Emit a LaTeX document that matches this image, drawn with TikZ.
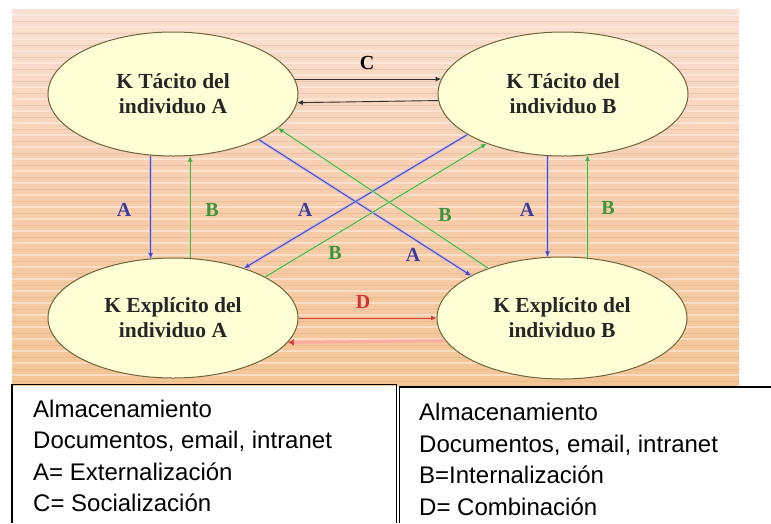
\documentclass[tikz,border=0pt]{standalone}
\usepackage{fontspec}
\setmainfont{Liberation Serif}
\newfontfamily\boxfont{Liberation Sans}
\usetikzlibrary{shapes.geometric,arrows.meta}
\definecolor{bgtop}{RGB}{250,224,212}
\definecolor{bgmid}{RGB}{247,205,172}
\definecolor{bgbot}{RGB}{244,198,150}
\definecolor{stripelight}{RGB}{255,240,230}
\definecolor{stripedark}{RGB}{210,160,120}
\definecolor{ellfill}{RGB}{255,255,214}
\definecolor{ellline}{RGB}{110,100,55}
\definecolor{ablue}{RGB}{75,75,200}
\definecolor{ahalo}{RGB}{180,180,245}
\definecolor{bgreen}{RGB}{70,175,70}
\definecolor{ghalo}{RGB}{190,235,170}
\definecolor{dred}{RGB}{205,55,55}
\definecolor{dpink}{RGB}{255,165,165}
\definecolor{cgray}{RGB}{50,50,50}
\begin{document}
\begin{tikzpicture}[x=1pt,y=-1pt,
  kell/.style={ellipse, draw=ellline, line width=1pt, fill=ellfill,
    minimum width=250pt, minimum height=124pt, inner sep=0pt, align=center,
    text=black!85, font=\bfseries\fontsize{21.5}{25}\selectfont},
  tip/.style={-{Latex[length=5.5pt,width=5pt]}},
  bluearr/.style={draw=ablue, line width=1pt, tip,
    preaction={draw=ahalo, line width=3pt, opacity=0.6, arrows=-}},
  greenarr/.style={draw=bgreen, line width=0.9pt, tip,
    preaction={draw=ghalo, line width=2.5pt, opacity=0.5, arrows=-}},
  blackarr/.style={draw=cgray, line width=0.9pt, tip},
  redarr/.style={draw=dred, line width=1pt, tip},
  pinkarr/.style={draw=dpink, line width=3pt, opacity=0.8,
    -{Latex[length=6pt,width=7pt,color=dred]}},
  lab/.style={inner sep=1pt, font=\bfseries\fontsize{20}{24}\selectfont},
  labA/.style={lab, text=ablue!80!black},
  labB/.style={lab, text=bgreen!85!black},
  boxline/.style={draw=black, line width=1.5pt},
  boxtext/.style={anchor=base west, inner sep=0pt,
    font=\boxfont\fontsize{24}{31}\selectfont}
]
\useasboundingbox (0,0) rectangle (771,523);
\fill[white] (0,0) rectangle (771,523);
% background panel
\shade[top color=bgtop, bottom color=bgbot, middle color=bgmid] (12,9) rectangle (739,385);
\foreach \yy in {15,27,...,383} {
  \draw[stripelight, line width=1.2pt, opacity=0.55] (12,\yy) -- (739,\yy);
}
\foreach \yy in {21,33,...,383} {
  \draw[stripedark, line width=0.8pt, opacity=0.3] (12,\yy) -- (739,\yy);
}
% ellipses
\node[kell] (ta) at (173,94) {K Tácito del\\individuo A};
\node[kell] (tb) at (563,94) {K Tácito del\\individuo B};
\node[kell, minimum height=120pt] (ea) at (173,318) {K Explícito del\\individuo A};
\node[kell, minimum height=122pt] (eb) at (562,318) {K Explícito del\\individuo B};
% C arrows
\draw[blackarr] (ta.7) -- (tb.173);
\draw[blackarr] (tb.183.7) -- (ta.356.3);
\node[lab] (lc) at (367,63) {C};
% verticals left
\draw[bluearr] (ta.250.2) -- (ta.250.2 |- ea.110.4);
\draw[greenarr] (ea.74.9) -- (ea.74.9 |- ta.284.6);
% verticals right
\draw[bluearr] (tb.256.3) -- (tb.256.3 |- eb.103.2);
\draw[greenarr] (eb.67) -- (eb.67 |- tb.291.5);
% diagonals
\draw[bluearr] (ta.332.1) -- (eb.155.8);
\draw[bluearr] (tb.203.1) -- (ea.35.2);
\draw[greenarr] (eb.146.1) -- (ta.342.1);
\draw[greenarr] (ea.24.9) -- (tb.213.2);
% D arrows
\draw[pinkarr] (eb.191) -- (ea.348.2);
\draw[redarr] (ea.east) -- (eb.west);
\node[lab, text=dred] (ld) at (363,302) {D};
% labels
\node[labA] (la1) at (124,210) {A};
\node[labB] (lb1) at (212,210) {B};
\node[labA] (la2) at (305,210) {A};
\node[labB] (lb2) at (445,215) {B};
\node[labB] (lb3) at (335,253) {B};
\node[labA] (la3) at (413,255) {A};
\node[labA] (la4) at (527,210) {A};
\node[labB] (lb4) at (608,208) {B};
% boxes
\draw[boxline] (12,523) -- (12,384.5) -- (396.5,384.5) -- (396.5,523);
\draw[boxline] (399.5,523) -- (399.5,387) -- (771,387);
\node[boxtext] (l1) at (33,417) {Almacenamiento};
\node[boxtext] (l2) at (33,448) {Documentos, email, intranet};
\node[boxtext] (l3) at (33,480) {A= Externalización};
\node[boxtext] (l4) at (33,511) {C= Socialización};
\node[boxtext] (r1) at (419,420) {Almacenamiento};
\node[boxtext] (r2) at (419,452) {Documentos, email, intranet};
\node[boxtext] (r3) at (419,483) {B=Internalización};
\node[boxtext] (r4) at (419,515) {D= Combinación};
\end{tikzpicture}
\end{document}
